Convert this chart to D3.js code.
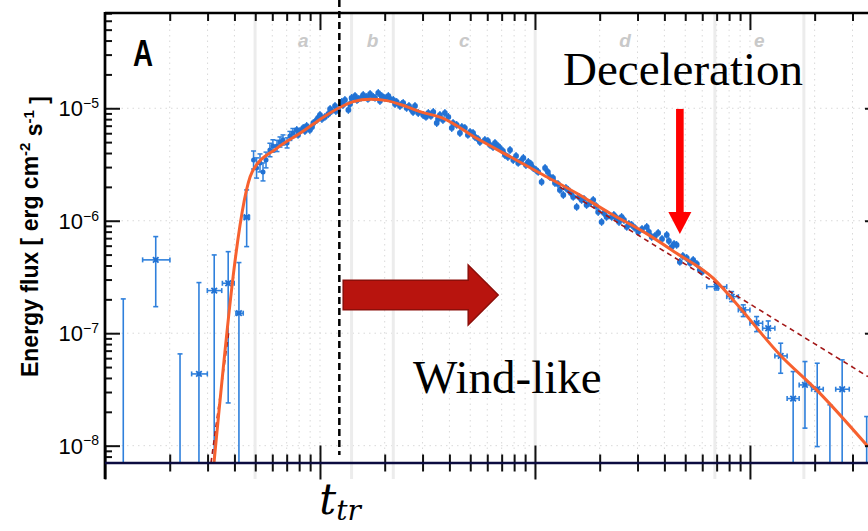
<!DOCTYPE html>
<html>
<head>
<meta charset="utf-8">
<style>
body{margin:0;background:#fff;}
svg{display:block;font-family:"Liberation Sans",Arial,sans-serif;}
</style>
<script src="https://d3js.org/d3.v7.min.js"></script>
</head>
<body>
<script>
// values, as log10(t / s) and log10(F / erg cm^-2 s^-1)

// sparse bins: [lgT, lgTlo, lgThi, lgF, lgFlo, lgFhi]  (-9 = below the plot)
const earlyBins = [
  [0.085, 0.085, 0.085, -9, -9, -6.695],
  [0.236, 0.175, 0.302, -6.348, -6.764, -6.141],
  [0.349, 0.349, 0.349, -9, -9, -7.184],
  [0.437, 0.403, 0.476, -7.362, -9, -6.550],
  [0.508, 0.476, 0.543, -6.621, -9, -6.304],
  [0.573, 0.546, 0.601, -6.556, -7.620, -6.275],
  [0.623, 0.609, 0.643, -6.822, -9, -6.372],
  [0.659, 0.647, 0.672, -5.969, -6.230, -5.726]
];
const lateBins = [
  [2.845, 2.799, 2.892, -6.586, -6.616, -6.556],
  [2.915, 2.892, 2.946, -6.675, -6.719, -6.630],
  [2.969, 2.946, 3.000, -6.793, -6.852, -6.748],
  [3.031, 3.000, 3.059, -6.911, -6.986, -6.852],
  [3.085, 3.059, 3.116, -6.956, -7.044, -6.891],
  [3.143, 3.116, 3.173, -7.202, -7.356, -7.089],
  [3.201, 3.173, 3.229, -7.581, -9, -7.341],
  [3.256, 3.229, 3.282, -7.460, -7.844, -7.252],
  [3.313, 3.287, 3.341, -7.498, -8.008, -7.267],
  [3.372, 3.372, 3.372, -9, -9, -7.637],
  [3.429, 3.399, 3.462, -7.498, -9, -7.237],
  [3.543, 3.543, 3.543, -9, -9, -7.741]
];

// first fine bins after the rise: [lgT, lgF, err(dex)]
const riseBins = [
  [0.691, -5.460, 0.08], [0.705, -5.531, 0.09], [0.721, -5.486, 0.08],
  [0.735, -5.566, 0.08], [0.749, -5.460, 0.07], [0.767, -5.371, 0.06],
  [0.781, -5.335, 0.055], [0.800, -5.335, 0.05], [0.814, -5.300, 0.045],
  [0.828, -5.282, 0.045], [0.847, -5.308, 0.045], [0.860, -5.246, 0.04],
  [0.874, -5.220, 0.04]
];

// dense fine bins: [lgT, lgF]
const fineBins = [
  [0.892,-5.193],[0.907,-5.202],[0.922,-5.175],[0.938,-5.157],[0.953,-5.193],
  [0.969,-5.131],[0.985,-5.104],[1.000,-5.060],[1.023,-5.077],[1.039,-5.051],
  [1.054,-5.024],[1.070,-4.980],[1.085,-5.015],[1.101,-4.944],[1.116,-4.926],
  [1.132,-5.015],[1.147,-4.908],[1.163,-4.891],[1.178,-4.917],[1.201,-4.882],
  [1.217,-4.900],[1.233,-4.873],[1.248,-4.900],[1.271,-4.864],[1.287,-4.891],
  [1.302,-4.908],[1.318,-4.891],[1.341,-4.926],[1.357,-4.944],[1.372,-4.980],
  [1.387,-4.953],[1.403,-4.997],[1.427,-5.015],[1.442,-4.980],[1.457,-5.042],
  [1.480,-5.060],[1.504,-5.042],[1.527,-5.033],[1.543,-5.131],[1.558,-5.060],
  [1.581,-5.042],[1.597,-5.077],[1.613,-5.175],[1.636,-5.148],[1.651,-5.220],
  [1.674,-5.175],[1.698,-5.211],[1.721,-5.255],[1.744,-5.300],[1.767,-5.282],
  [1.791,-5.326],[1.814,-5.308],[1.837,-5.353],[1.860,-5.415],[1.884,-5.371],
  [1.899,-5.460],[1.922,-5.486],[1.946,-5.442],[1.969,-5.477],[1.992,-5.531],
  [2.015,-5.566],[2.031,-5.655],[2.047,-5.531],[2.070,-5.611],[2.093,-5.664],
  [2.116,-5.726],[2.132,-5.771],[2.155,-5.726],[2.178,-5.788],[2.194,-5.877],
  [2.217,-5.815],[2.240,-5.860],[2.271,-5.815],[2.294,-5.922],[2.310,-6.011],
  [2.333,-5.966],[2.357,-5.966],[2.380,-5.975],[2.403,-5.966],[2.427,-6.055],
  [2.450,-6.037],[2.480,-6.100],[2.520,-6.055],[2.543,-6.144],[2.573,-6.108],
  [2.613,-6.126],[2.636,-6.233],[2.659,-6.215],[2.674,-6.366],[2.706,-6.331],
  [2.736,-6.348],[2.767,-6.437],[2.777,-6.455],
  [0.898,-5.237],[0.930,-5.202],[0.963,-5.166],[0.991,-5.086],[1.009,-5.095],
  [1.047,-5.006],[1.074,-5.024],[1.107,-4.971],[1.140,-4.962],[1.172,-4.926],
  [1.191,-4.908],[1.223,-4.917],[1.256,-4.908],[1.279,-4.935],[1.326,-4.917],
  [1.349,-4.962],[1.381,-4.962],[1.414,-4.980],[1.433,-5.033],[1.493,-5.077],
  [1.516,-5.068],[1.549,-5.095],[1.572,-5.104],[1.619,-5.131],[1.660,-5.166],
  [1.688,-5.237],[1.712,-5.220],[1.735,-5.273],[1.781,-5.291],[1.805,-5.344],
  [1.828,-5.335],[1.851,-5.380],[1.874,-5.433],[1.912,-5.424],[1.935,-5.468],
  [1.958,-5.504],[1.981,-5.495],[2.005,-5.548],[2.060,-5.566],[2.084,-5.620],
  [2.107,-5.673],[2.144,-5.708],[2.167,-5.753],[2.205,-5.788],[2.228,-5.806],
  [2.256,-5.842],[2.284,-5.868],[2.321,-5.931],[2.367,-5.948],[2.391,-6.011],
  [2.414,-5.993],[2.437,-6.028],[2.465,-6.064],[2.498,-6.073],[2.530,-6.100],
  [2.558,-6.135],[2.591,-6.162],[2.623,-6.180],[2.647,-6.206],[2.688,-6.313],
  [2.721,-6.375],[2.753,-6.384]
];
const FINE_ERR = 0.035;

// model curve (orange) and the wind-like power laws (dashed)
const fitCurve = [
  [0.507,-8.153],[0.685,-5.564],[0.799,-5.356],[0.907,-5.222],[0.985,-5.119],
  [1.085,-5.000],[1.155,-4.941],[1.233,-4.920],[1.310,-4.932],[1.403,-4.986],
  [1.465,-5.030],[1.573,-5.089],[1.729,-5.267],[1.884,-5.430],[2.039,-5.593],
  [2.194,-5.756],[2.349,-5.933],[2.504,-6.097],[2.659,-6.289],[2.829,-6.511],
  [2.922,-6.704],[3.140,-7.193],[3.310,-7.504],[3.549,-8.008]
];
const windRise = [[0.493,-8.153],[0.577,-6.971]];
const windDecay = [[2.116,-5.700],[3.549,-7.386]];

// time-interval boundaries and labels
const regionEdges = [0.698, 1.147, 1.341, 2.001, 2.837, 3.251];
const regionNames = ["a", "b", "c", "d", "e"];
const yTickExp = [-8, -7, -6, -5];
const T_TR = 1.090; // lg of transition time

const P = v => Math.pow(10, v);
const W = 868, H = 531;
const pL = 105, pR = 880, pT = 13, pB = 463;

const x = d3.scaleLog().domain([1, P(3.605)]).range([pL, pR]);
const y = d3.scaleLog().domain([P(-8.154), P(-4.153)]).range([pB, pT]);
const X = v => x(P(v)), Y = v => y(P(v));

const svg = d3.select("body").append("svg").attr("width", W).attr("height", H);
svg.append("defs").append("clipPath").attr("id", "plot")
  .append("rect").attr("x", pL).attr("y", pT)
  .attr("width", pR - pL).attr("height", pB - pT);

const xTicks = x.ticks();
const xMajor = xTicks.filter(d => Math.abs(Math.log10(d) - Math.round(Math.log10(d))) < 1e-9);
const xMinor = xTicks.filter(d => !xMajor.includes(d));
const yTicks = y.ticks();
const yMajor = yTickExp.map(P);
const yMinor = yTicks.filter(d => !yMajor.some(m => Math.abs(m - d) / m < 1e-6));

// dotted grid
const grid = svg.append("g").attr("stroke", "#d9d9d9").attr("stroke-width", 1)
  .attr("stroke-dasharray", "1.5,4");
grid.selectAll(".gx").data(xTicks).join("line")
  .attr("x1", d => x(d)).attr("x2", d => x(d)).attr("y1", pT).attr("y2", pB);
grid.selectAll(".gy").data(yMajor).join("line")
  .attr("x1", pL).attr("x2", pR).attr("y1", d => y(d)).attr("y2", d => y(d));

// interval boundaries
svg.append("g").selectAll("line").data(regionEdges).join("line")
  .attr("x1", d => X(d)).attr("x2", d => X(d)).attr("y1", pT).attr("y2", 479)
  .attr("stroke", "#ececec").attr("stroke-width", 3);
svg.append("g").selectAll("text").data(regionNames).join("text")
  .attr("x", (d, i) => X((regionEdges[i] + regionEdges[i + 1]) / 2))
  .attr("y", 47).attr("text-anchor", "middle")
  .attr("font-size", 19).attr("font-weight", "bold").attr("font-style", "italic")
  .attr("fill", "#c9c9c9").text(d => d);

const plot = svg.append("g").attr("clip-path", "url(#plot)");
const blue = "#2272d4";

// sparse bins with error bars
const bins = plot.append("g").attr("stroke", "#2f80dc").attr("stroke-width", 1.6);
const allBins = earlyBins.concat(lateBins);
bins.selectAll(".v").data(allBins).join("line")
  .attr("x1", d => X(d[0])).attr("x2", d => X(d[0]))
  .attr("y1", d => Y(d[5])).attr("y2", d => Y(d[4]));
bins.selectAll(".vc").data(allBins).join("line")
  .attr("x1", d => X(d[0]) - 2.5).attr("x2", d => X(d[0]) + 2.5)
  .attr("y1", d => Y(d[5])).attr("y2", d => Y(d[5]));
bins.selectAll(".vb").data(allBins.filter(d => d[4] > -8.5)).join("line")
  .attr("x1", d => X(d[0]) - 2.5).attr("x2", d => X(d[0]) + 2.5)
  .attr("y1", d => Y(d[4])).attr("y2", d => Y(d[4]));
const withX = allBins.filter(d => d[2] > d[1]);
bins.selectAll(".h").data(withX).join("line")
  .attr("x1", d => X(d[1])).attr("x2", d => X(d[2]))
  .attr("y1", d => Y(d[3])).attr("y2", d => Y(d[3]));
bins.selectAll(".hl").data(withX).join("line")
  .attr("x1", d => X(d[1])).attr("x2", d => X(d[1]))
  .attr("y1", d => Y(d[3]) - 2.5).attr("y2", d => Y(d[3]) + 2.5);
bins.selectAll(".hr").data(withX).join("line")
  .attr("x1", d => X(d[2])).attr("x2", d => X(d[2]))
  .attr("y1", d => Y(d[3]) - 2.5).attr("y2", d => Y(d[3]) + 2.5);
plot.append("g").selectAll("path").data(allBins).join("path")
  .attr("transform", d => `translate(${X(d[0])},${Y(d[3])})`)
  .attr("d", d3.symbol(d3.symbolTimes, 22))
  .attr("stroke", blue).attr("stroke-width", 1.8).attr("fill", "none");
plot.append("g").selectAll("rect").data(allBins).join("rect")
  .attr("x", d => X(d[0]) - 2).attr("y", d => Y(d[3]) - 2)
  .attr("width", 4).attr("height", 4).attr("fill", blue);

// rise bins
const rise = plot.append("g").attr("stroke", "#2f80dc").attr("stroke-width", 1.5);
rise.selectAll(".v").data(riseBins).join("line")
  .attr("x1", d => X(d[0])).attr("x2", d => X(d[0]))
  .attr("y1", d => Y(d[1] + d[2])).attr("y2", d => Y(d[1] - d[2]));
rise.selectAll(".c1").data(riseBins).join("line")
  .attr("x1", d => X(d[0]) - 2.5).attr("x2", d => X(d[0]) + 2.5)
  .attr("y1", d => Y(d[1] + d[2])).attr("y2", d => Y(d[1] + d[2]));
rise.selectAll(".c2").data(riseBins).join("line")
  .attr("x1", d => X(d[0]) - 2.5).attr("x2", d => X(d[0]) + 2.5)
  .attr("y1", d => Y(d[1] - d[2])).attr("y2", d => Y(d[1] - d[2]));
plot.append("g").selectAll("circle").data(riseBins).join("circle")
  .attr("cx", d => X(d[0])).attr("cy", d => Y(d[1])).attr("r", 2.5).attr("fill", blue);

// dense bins
plot.append("g").attr("stroke", "#2f80dc").attr("stroke-width", 1.4)
  .selectAll("line").data(fineBins).join("line")
  .attr("x1", d => X(d[0])).attr("x2", d => X(d[0]))
  .attr("y1", d => Y(d[1] + FINE_ERR)).attr("y2", d => Y(d[1] - FINE_ERR));
plot.append("g").selectAll("circle").data(fineBins).join("circle")
  .attr("cx", d => X(d[0])).attr("cy", d => Y(d[1])).attr("r", 2.9).attr("fill", blue);

// model curves
const line = d3.line().x(d => X(d[0])).y(d => Y(d[1]));
plot.append("path").datum(windRise).attr("d", line).attr("fill", "none")
  .attr("stroke", "#a31818").attr("stroke-width", 1.6).attr("stroke-dasharray", "5,4");
plot.append("path").datum(windDecay).attr("d", line).attr("fill", "none")
  .attr("stroke", "#a31818").attr("stroke-width", 1.6).attr("stroke-dasharray", "5,4");
plot.append("path").datum(fitCurve).attr("d", line.curve(d3.curveMonotoneX)).attr("fill", "none")
  .attr("stroke", "#f7612f").attr("stroke-width", 3);

// axes
function clean(g) { g.select(".domain").remove(); g.selectAll("text").remove(); }
const tickStyle = g => g.selectAll("line").attr("stroke", "#111").attr("stroke-width", 2);

// bottom ticks cross the baseline
svg.append("g").attr("transform", `translate(0,${pB - 8.5})`)
  .call(d3.axisBottom(x).tickValues(xMinor).tickSize(17)).call(clean).call(tickStyle);
svg.append("g").attr("transform", `translate(0,${pB - 17.5})`)
  .call(d3.axisBottom(x).tickValues(xMajor).tickSize(34)).call(clean).call(tickStyle);
// top
svg.append("g").attr("transform", `translate(0,${pT})`)
  .call(d3.axisBottom(x).tickValues(xMinor).tickSize(8)).call(clean).call(tickStyle);
svg.append("g").attr("transform", `translate(0,${pT})`)
  .call(d3.axisBottom(x).tickValues(xMajor.filter(d => d > 1)).tickSize(17)).call(clean).call(tickStyle);
// right
svg.append("g").attr("transform", `translate(${pR},0)`)
  .call(d3.axisLeft(y).tickValues(yMinor).tickSize(7)).call(clean).call(tickStyle);
svg.append("g").attr("transform", `translate(${pR},0)`)
  .call(d3.axisLeft(y).tickValues(yMajor).tickSize(15)).call(clean).call(tickStyle);
// left, inward ticks
svg.append("g").attr("transform", `translate(${pL},0)`)
  .call(d3.axisLeft(y).tickValues(yMinor).tickSize(-7)).call(clean).call(tickStyle);
const yAxis = svg.append("g").attr("transform", `translate(${pL},0)`)
  .call(d3.axisLeft(y).tickValues(yMajor).tickSize(-15).tickPadding(6).tickFormat(() => ""))
  .call(g => g.select(".domain").remove()).call(tickStyle);
yAxis.selectAll(".tick text").each(function (d, i) {
  const t = d3.select(this).attr("font-size", 22).attr("fill", "#000")
    .attr("font-family", "'Liberation Sans', Arial, sans-serif").attr("dy", "0.35em");
  t.append("tspan").text("10");
  t.append("tspan").attr("dy", "-0.6em").attr("font-size", 14).text("\u2212" + Math.abs(yTickExp[i]));
});

// frame lines
svg.append("line").attr("x1", pL).attr("x2", pR).attr("y1", pT).attr("y2", pT)
  .attr("stroke", "#000").attr("stroke-width", 2.5);
svg.append("line").attr("x1", pL).attr("x2", pL).attr("y1", pT - 1).attr("y2", 479)
  .attr("stroke", "#000").attr("stroke-width", 2.7);
svg.append("line").attr("x1", pL).attr("x2", pR).attr("y1", pB).attr("y2", pB)
  .attr("stroke", "#0c0c40").attr("stroke-width", 2.5);

// axis title
svg.append("text")
  .attr("transform", `translate(38,${(85 + 388) / 2}) rotate(-90)`)
  .attr("text-anchor", "middle").attr("font-size", 23).attr("font-weight", "bold")
  .call(t => {
    t.append("tspan").text("Energy flux [ erg cm");
    t.append("tspan").attr("dy", "-0.55em").attr("font-size", 15).text("-2");
    t.append("tspan").attr("dy", "0.55em").text(" s");
    t.append("tspan").attr("dy", "-0.55em").attr("font-size", 15).text("-1");
    t.append("tspan").attr("dy", "0.55em").text(" ]");
  });

// panel letter
svg.append("text").attr("transform", "translate(133,66) scale(0.75,1)")
  .attr("font-size", 37).attr("font-weight", "bold").text("A");

// transition time
svg.append("line").attr("x1", X(T_TR)).attr("x2", X(T_TR)).attr("y1", 0).attr("y2", 455)
  .attr("stroke", "#000").attr("stroke-width", 2.5).attr("stroke-dasharray", "7,4");
svg.append("text").attr("x", X(T_TR) - 20).attr("y", 514)
  .attr("font-family", "'DejaVu Serif', serif").attr("font-style", "italic").attr("font-size", 42)
  .call(t => {
    t.append("tspan").text("t");
    t.append("tspan").attr("dy", 6).attr("font-size", 28).text("tr");
  });

// wind-like arrow
const ax0 = X(1.108), ax1 = X(1.829), ay = Y(-6.660);
svg.append("path")
  .attr("d", `M${ax0},${ay - 14.7}H${ax1 - 30}V${ay - 30}L${ax1},${ay}L${ax1 - 30},${ay + 30}V${ay + 14.7}H${ax0}Z`)
  .attr("fill", "#b8140e").attr("stroke", "#8c0f0a").attr("stroke-width", 1.5);

// deceleration arrow
const dx = X(2.674), dy0 = Y(-5.006), dy1 = Y(-6.117);
svg.append("rect").attr("x", dx - 3.8).attr("y", dy0).attr("width", 7.6).attr("height", dy1 - dy0 - 21)
  .attr("fill", "#ff0000");
svg.append("path").attr("d", `M${dx - 11.5},${dy1 - 22}L${dx + 11.5},${dy1 - 22}L${dx},${dy1}Z`)
  .attr("fill", "#ff0000");

svg.append("text").attr("x", 563).attr("y", 85)
  .attr("font-family", "'Liberation Serif', 'Times New Roman', serif").attr("font-size", 47)
  .text("Deceleration");
svg.append("text").attr("x", 413).attr("y", 393)
  .attr("font-family", "'Liberation Serif', 'Times New Roman', serif").attr("font-size", 47)
  .text("Wind-like");
</script>
</body>
</html>
